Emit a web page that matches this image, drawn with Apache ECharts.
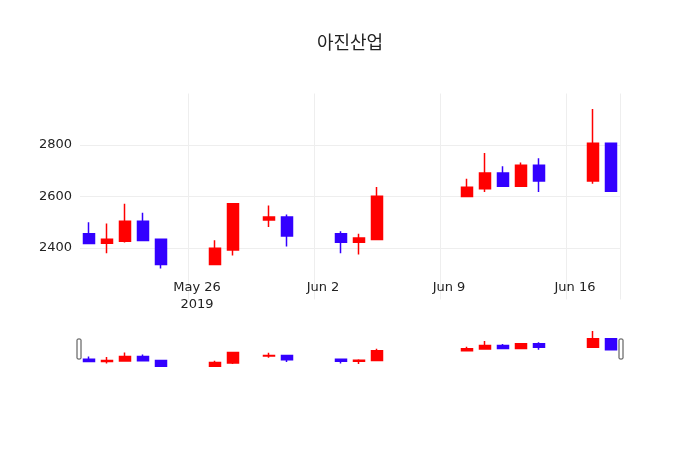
<!DOCTYPE html>
<html><head><meta charset="utf-8">
<script src="https://cdn.jsdelivr.net/npm/echarts@6/dist/echarts.min.js"></script>
<style>html,body{margin:0;background:#fff}#c{width:700px;height:450px}</style>
</head><body><div id="c"></div>
<script>
const dates = ['May 20','May 21','May 22','May 23','May 24','May 25','May 26','May 27','May 28','May 29','May 30','May 31','Jun 1','Jun 2','Jun 3','Jun 4','Jun 5','Jun 6','Jun 7','Jun 8','Jun 9','Jun 10','Jun 11','Jun 12','Jun 13','Jun 14','Jun 15','Jun 16','Jun 17','Jun 18'];
const openV  = [2455,2418,2426,2504,2434,null,null,2336,2392,null,2509,2520,null,null,2455,2422,2433,null,null,null,null,2600,2630,2691,2640,2721,null,null,2660,2807];
const closeV = [2417,2434,2504,2429,2336,null,null,2399,2572,null,2520,2447,null,null,2422,2439,2601,null,null,null,null,2636,2691,2640,2721,2660,null,null,2807,2620];
const lowV   = [2417,2380,2421,2429,2320,null,null,2336,2371,null,2482,2406,null,null,2380,2375,2433,null,null,null,null,2600,2617,2640,2640,2617,null,null,2650,2620];
const highV  = [2500,2495,2572,2537,2434,null,null,2430,2572,null,2565,2530,null,null,2465,2455,2637,null,null,null,null,2669,2769,2717,2732,2749,null,null,2940,2807];
const tickLabels = {'May 26':'May 26\n2019','Jun 2':'Jun 2','Jun 9':'Jun 9','Jun 16':'Jun 16'};
const yTicks = [2400,2600,2800];
const data = dates.map((d,i)=> openV[i]==null ? '-' : [openV[i],closeV[i],lowV[i],highV[i]]);
const showTick = (i)=> tickLabels[dates[i]] !== undefined;
const style = {color:'#ff0000',color0:'#3300ff',borderColor:'#ff0000',borderColor0:'#3300ff',borderWidth:1.5};
const chart = echarts.init(document.getElementById('c'));
chart.setOption({
  animation:false,
  title:{text:'아진산업',left:'center',top:28,textStyle:{fontFamily:'Noto Sans CJK KR',fontWeight:'normal',fontSize:18,color:'#222'}},
  grid:[{left:80,right:80,top:93.5,height:206},{left:80,right:80,top:329,height:40}],
  xAxis:[
    {type:'category',gridIndex:0,data:dates,boundaryGap:true,axisLine:{show:false},axisTick:{show:false},
     axisLabel:{interval:(i)=>showTick(i),formatter:(v)=>tickLabels[v]||'',color:'#222',fontSize:13,fontFamily:'DejaVu Sans',lineHeight:17,margin:-20},
     splitLine:{show:true,interval:(i)=>showTick(i),lineStyle:{color:'#eee'}}},
    {type:'category',gridIndex:1,data:dates,show:false}
  ],
  yAxis:[
    {type:'value',gridIndex:0,min:2200,max:3000,interval:200,axisLine:{show:false},axisTick:{show:false},
     axisLabel:{color:'#222',fontSize:13,fontFamily:'DejaVu Sans',formatter:(v)=>yTicks.includes(v)?String(v):''},
     splitLine:{lineStyle:{color:['transparent','#eee','#eee','#eee','transparent']}}},
    {type:'value',gridIndex:1,min:2287,max:2975,show:false}
  ],
  series:[
    {type:'candlestick',xAxisIndex:0,yAxisIndex:0,data:data,barWidth:11,itemStyle:style},
    {type:'candlestick',xAxisIndex:1,yAxisIndex:1,data:data,barWidth:11,itemStyle:style}
  ],
  graphic:[
    {type:'rect',shape:{x:77,y:339,width:4,height:20,r:1},style:{fill:'#fff',stroke:'#444',lineWidth:1}},
    {type:'rect',shape:{x:619,y:339,width:4,height:20,r:1},style:{fill:'#fff',stroke:'#444',lineWidth:1}}
  ]
});
</script></body></html>
